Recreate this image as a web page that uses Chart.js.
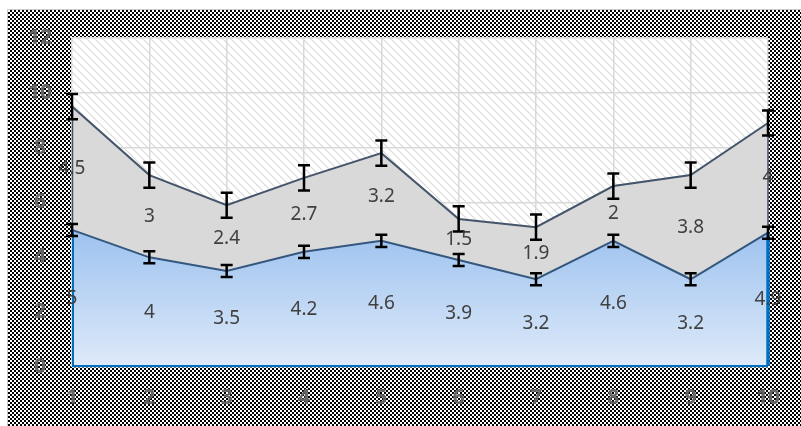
<!DOCTYPE html>
<html>
<head>
<meta charset="utf-8">
<script src="https://cdn.jsdelivr.net/npm/chart.js@4/dist/chart.umd.min.js"></script>
<style>
  html, body { margin: 0; padding: 0; background: #fff; }
  #chart { display: block; }
</style>
</head>
<body>
<canvas id="chart" width="801" height="426"></canvas>
<script>
// data
const categories = ['1', '2', '3', '4', '5', '6', '7', '8', '9', '10'];
const lowerValues = [5, 4, 3.5, 4.2, 4.6, 3.9, 3.2, 4.6, 3.2, 4.9];
const upperValues = [4.5, 3, 2.4, 2.7, 3.2, 1.5, 1.9, 2, 3.8, 4];
const lowerErrors = [0.22, 0.22, 0.22, 0.22, 0.22, 0.22, 0.22, 0.22, 0.22, 0.22];
const upperErrors = [0.46, 0.46, 0.46, 0.46, 0.46, 0.46, 0.46, 0.46, 0.46, 0.46];

const tickColor = '#666666';
const slate = '#44546a';
const fontFamily = '"Noto Sans", sans-serif';

// patterns
function makeChecker() {
    const c = document.createElement('canvas');
    c.width = 4; c.height = 4;
    const g = c.getContext('2d');
    g.fillStyle = '#fff';
    g.fillRect(0, 0, 4, 4);
    g.fillStyle = '#000';
    g.fillRect(0, 0, 2, 2);
    g.fillRect(2, 2, 2, 2);
    return c;
}
function makeHatch() {
    const c = document.createElement('canvas');
    c.width = 8; c.height = 8;
    const g = c.getContext('2d');
    g.fillStyle = '#fff';
    g.fillRect(0, 0, 8, 8);
    g.strokeStyle = '#dadada';
    g.lineWidth = 1.2;
    g.beginPath();
    g.moveTo(-1, -1); g.lineTo(9, 9);
    g.moveTo(-1, 7); g.lineTo(1, 9);
    g.moveTo(7, -1); g.lineTo(9, 1);
    g.stroke();
    return c;
}
const checkerTile = makeChecker();
const hatchTile = makeHatch();

// backgrounds: checker outside, hatched plot area
const backgroundPlugin = {
    id: 'backgrounds',
    beforeDraw: (chart) => {
        const {ctx, chartArea} = chart;
        ctx.save();
        ctx.fillStyle = '#fff';
        ctx.fillRect(0, 0, chart.width, chart.height);
        ctx.fillStyle = ctx.createPattern(checkerTile, 'repeat');
        ctx.fillRect(8, 10, chart.width - 8, chart.height - 10);
        ctx.strokeStyle = '#c8c8c8';
        ctx.lineWidth = 1;
        ctx.beginPath();
        ctx.moveTo(7.5, chart.height);
        ctx.lineTo(7.5, 9.5);
        ctx.lineTo(chart.width, 9.5);
        ctx.stroke();
        ctx.fillStyle = ctx.createPattern(hatchTile, 'repeat');
        ctx.fillRect(chartArea.left, chartArea.top, chartArea.right - chartArea.left, chartArea.bottom - chartArea.top);
        ctx.restore();
    }
};

// series outlines at the plot edges, error bars and value labels
const overlayPlugin = {
    id: 'overlay',
    afterDatasetsDraw: (chart) => {
        const {ctx} = chart;
        const x = chart.scales.x;
        const y = chart.scales.y;
        const n = categories.length;
        const x0 = x.getPixelForValue(0);
        const xn = x.getPixelForValue(n - 1);
        const yZero = y.getPixelForValue(0);
        ctx.save();

        // upper area side edges
        ctx.strokeStyle = slate;
        ctx.lineWidth = 1.5;
        ctx.beginPath();
        ctx.moveTo(x0 + 0.5, y.getPixelForValue(lowerValues[0]));
        ctx.lineTo(x0 + 0.5, y.getPixelForValue(lowerValues[0] + upperValues[0]));
        ctx.moveTo(xn, y.getPixelForValue(lowerValues[n - 1]));
        ctx.lineTo(xn, y.getPixelForValue(lowerValues[n - 1] + upperValues[n - 1]));
        ctx.stroke();

        // lower area outline (blue)
        ctx.strokeStyle = '#0070c0';
        ctx.lineWidth = 2;
        ctx.beginPath();
        ctx.moveTo(x0 + 1, y.getPixelForValue(lowerValues[0]));
        ctx.lineTo(x0 + 1, yZero - 1);
        ctx.lineTo(xn, yZero - 1);
        ctx.stroke();
        ctx.lineWidth = 3.5;
        ctx.beginPath();
        ctx.moveTo(xn, yZero - 1);
        ctx.lineTo(xn, y.getPixelForValue(lowerValues[n - 1]));
        ctx.stroke();

        // error bars
        ctx.strokeStyle = '#000';
        ctx.lineWidth = 2.5;
        const cap = 6;
        const bar = (px, v, e) => {
            const top = y.getPixelForValue(v + e);
            const bot = y.getPixelForValue(v - e);
            ctx.beginPath();
            ctx.moveTo(px, top); ctx.lineTo(px, bot);
            ctx.moveTo(px - cap, top); ctx.lineTo(px + cap, top);
            ctx.moveTo(px - cap, bot); ctx.lineTo(px + cap, bot);
            ctx.stroke();
        };
        categories.forEach((c, i) => {
            const px = x.getPixelForValue(i);
            bar(px, lowerValues[i], lowerErrors[i]);
            bar(px, lowerValues[i] + upperValues[i], upperErrors[i]);
        });

        // value labels in the middle of each band
        ctx.fillStyle = '#404040';
        ctx.font = '19px ' + fontFamily;
        ctx.textAlign = 'center';
        ctx.textBaseline = 'middle';
        categories.forEach((c, i) => {
            const px = x.getPixelForValue(i);
            ctx.fillText(String(lowerValues[i]), px, y.getPixelForValue(lowerValues[i] / 2));
            ctx.fillText(String(upperValues[i]), px, y.getPixelForValue(lowerValues[i] + upperValues[i] / 2));
        });
        ctx.restore();
    }
};

const ctx = document.getElementById('chart');

const config = {
    type: 'line',
    data: {
        labels: categories,
        datasets: [
            {
                label: 'Series 1',
                data: lowerValues,
                fill: 'origin',
                borderColor: '#34577f',
                borderWidth: 2,
                pointRadius: 0,
                tension: 0,
                backgroundColor: (context) => {
                    const {chart} = context;
                    const area = chart.chartArea;
                    if (!area) return '#b4d0f3';
                    const g = chart.ctx.createLinearGradient(0, chart.scales.y.getPixelForValue(5), 0, area.bottom);
                    g.addColorStop(0, '#9dc2ef');
                    g.addColorStop(1, '#deeaf9');
                    return g;
                }
            },
            {
                label: 'Series 2',
                data: upperValues,
                fill: '-1',
                borderColor: slate,
                borderWidth: 2,
                pointRadius: 0,
                tension: 0,
                backgroundColor: '#d9d9d9'
            }
        ]
    },
    options: {
        responsive: false,
        animation: false,
        layout: {
            padding: {top: 38, right: 33, left: 0, bottom: 0}
        },
        plugins: {
            legend: {display: false},
            tooltip: {enabled: false}
        },
        scales: {
            x: {
                offset: false,
                grid: {color: '#d9d9d9', lineWidth: 1.5, drawTicks: false},
                border: {display: false},
                ticks: {
                    color: tickColor,
                    font: {family: fontFamily, size: 21, weight: 'bold'},
                    padding: 18,
                    maxRotation: 0
                },
                afterFit: (scale) => { scale.height = 59; }
            },
            y: {
                stacked: true,
                min: 0,
                max: 12,
                grid: {color: '#d9d9d9', lineWidth: 1.5, drawTicks: false},
                border: {display: false},
                ticks: {
                    stepSize: 2,
                    color: tickColor,
                    crossAlign: 'center',
                    padding: 20,
                    font: {family: fontFamily, size: 21, weight: 'bold'}
                },
                afterFit: (scale) => { scale.width = 72; }
            }
        }
    },
    plugins: [backgroundPlugin, overlayPlugin]
};

const myChart = new Chart(ctx, config);
</script>
</body>
</html>
